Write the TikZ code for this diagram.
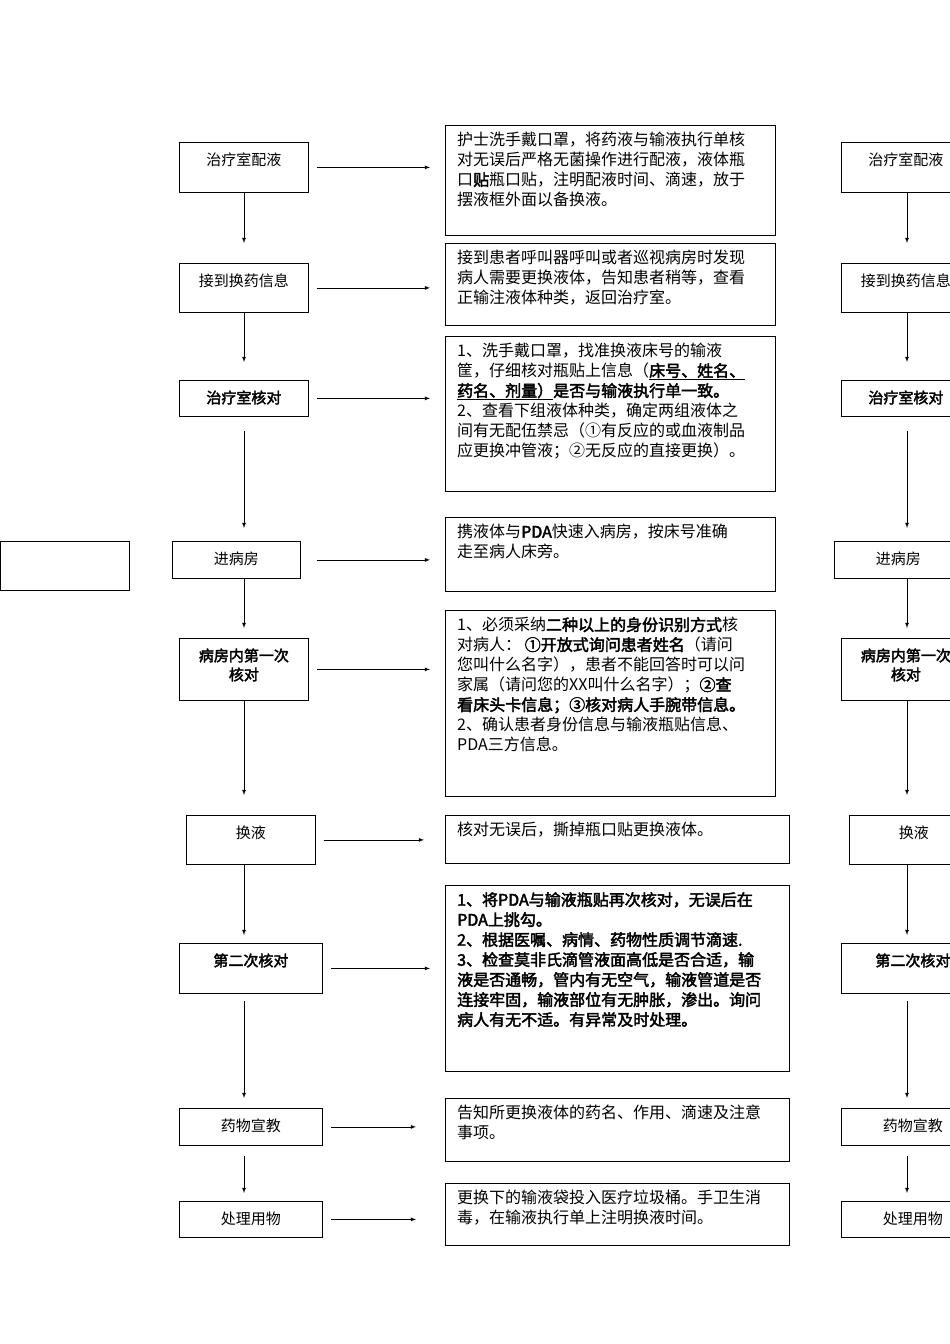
\documentclass[tikz,border=0pt]{standalone}
\usepackage{fontspec}
\setmainfont{Noto Sans CJK SC}[AutoFakeBold=2.5]
\usetikzlibrary{arrows, positioning, calc}
\tikzstyle{stepbox} = [rectangle, draw=black, thick, anchor=north west, inner sep=0pt, font=\fontsize{15}{19}\selectfont]
\tikzstyle{notebox} = [rectangle, draw=black, thick, anchor=north west, inner sep=0pt, font=\fontsize{16}{20}\selectfont]
\tikzstyle{arrow} = [thick,->,>=latex]
\newcommand{\stepnode}[6]{\node (#1) [stepbox, minimum width=#4, minimum height=#5] at (#2,#3) {};
  \node [anchor=north, align=center, font=\fontsize{15}{19}\selectfont] at ([yshift=-7]#1.north) {#6};}
\newcommand{\notenode}[6]{\node (#1) [notebox, minimum width=#4, minimum height=#5] at (#2,#3) {};
  \node [anchor=north west, align=left, font=\fontsize{16}{20}\selectfont, inner sep=0pt] at ([xshift=12,yshift=-7]#1.north west) {#6};}

\begin{document}
\begin{tikzpicture}[x=1pt, y=-1pt]
\useasboundingbox (0,0) rectangle (950,1344);
\coordinate (spine) at (244,0);
\coordinate (spineB) at (907,0);

% Left column
\stepnode{prep}{179}{142}{129}{50}{治疗室配液}
\stepnode{info}{179}{263}{129}{49}{接到换药信息}
\stepnode{check}{179}{380}{129}{36}{\textbf{治疗室核对}}
\stepnode{ward}{172}{541}{128}{37}{进病房}
\stepnode{first}{179}{638}{129}{62}{\textbf{病房内第一次}\\\textbf{核对}}
\stepnode{swap}{186}{815}{129}{49}{换液}
\stepnode{second}{179}{943}{143}{50}{\textbf{第二次核对}}
\stepnode{teach}{179}{1108}{143}{37}{药物宣教}
\stepnode{clean}{179}{1201}{143}{36}{处理用物}
\node (blank) [stepbox, minimum width=129, minimum height=49] at (0,541) {};

% Right column copy (cut off)
\stepnode{prepB}{841}{142}{129}{50}{治疗室配液}
\stepnode{infoB}{841}{263}{129}{49}{接到换药信息}
\stepnode{checkB}{841}{380}{129}{36}{\textbf{治疗室核对}}
\stepnode{wardB}{834}{541}{128}{37}{进病房}
\stepnode{firstB}{841}{638}{129}{62}{\textbf{病房内第一次}\\\textbf{核对}}
\stepnode{swapB}{849}{815}{129}{49}{换液}
\stepnode{secondB}{841}{943}{143}{50}{\textbf{第二次核对}}
\stepnode{teachB}{841}{1108}{143}{37}{药物宣教}
\stepnode{cleanB}{841}{1201}{143}{36}{处理用物}

% Notes
\notenode{n1}{445}{125}{330}{110}{护士洗手戴口罩，将药液与输液执行单核\\对无误后严格无菌操作进行配液，液体瓶\\口\textbf{贴}瓶口贴，注明配液时间、滴速，放于\\摆液框外面以备换液。}
\notenode{n2}{445}{243}{330}{82}{接到患者呼叫器呼叫或者巡视病房时发现\\病人需要更换液体，告知患者稍等，查看\\正输注液体种类，返回治疗室。}
\notenode{n3}{445}{336}{330}{155}{1、洗手戴口罩，找准换液床号的输液\\筐，仔细核对瓶贴上信息（\underline{\textbf{床号、姓名、}}\\\underline{\textbf{药名、剂量）}}\textbf{是否与输液执行单一致。}\\2、查看下组液体种类，确定两组液体之\\间有无配伍禁忌（①有反应的或血液制品\\应更换冲管液；②无反应的直接更换）。}
\notenode{n4}{445}{517}{330}{74}{携液体与\textbf{PDA}快速入病房，按床号准确\\走至病人床旁。}
\notenode{n5}{445}{610}{330}{186}{1、必须采纳\textbf{二种以上的身份识别方式}核\\对病人：\ \textbf{①开放式询问患者姓名}（请问\\您叫什么名字），患者不能回答时可以问\\家属（请问您的XX叫什么名字）；\textbf{②查}\\\textbf{看床头卡信息；③核对病人手腕带信息。}\\2、确认患者身份信息与输液瓶贴信息、\\PDA三方信息。}
\notenode{n6}{445}{815}{344}{48}{核对无误后，撕掉瓶口贴更换液体。}
\notenode{n7}{445}{885}{344}{186}{\textbf{1、将PDA与输液瓶贴再次核对，无误后在}\\\textbf{PDA上挑勾。}\\\textbf{2、根据医嘱、病情、药物性质调节滴速.}\\\textbf{3、检查莫非氏滴管液面高低是否合适，输}\\\textbf{液是否通畅，管内有无空气，输液管道是否}\\\textbf{连接牢固，输液部位有无肿胀，渗出。询问}\\\textbf{病人有无不适。有异常及时处理。}}
\notenode{n8}{445}{1098}{344}{63}{告知所更换液体的药名、作用、滴速及注意\\事项。}
\notenode{n9}{445}{1183}{344}{62}{更换下的输液袋投入医疗垃圾桶。手卫生消\\毒，在输液执行单上注明换液时间。}

% Down arrows
\foreach \a/\b/\s/\e/\x in {prep/info/0/20/spine, info/check/0/18/spine, check/ward/14/13/spine, ward/first/0/10/spine, first/swap/0/20/spine, swap/second/0/8/spine, second/teach/7/10/spine, teach/clean/10/8/spine,
  prepB/infoB/0/20/spineB, infoB/checkB/0/18/spineB, checkB/wardB/14/13/spineB, wardB/firstB/0/10/spineB, firstB/swapB/0/20/spineB, swapB/secondB/0/8/spineB, secondB/teachB/7/10/spineB, teachB/cleanB/10/8/spineB}
  \draw [arrow, shorten <=\s, shorten >=\e] (\a.south -| \x) -- (\b.north -| \x);

% Side arrows
\foreach \a/\b/\s/\e in {prep/n1/8/15, info/n2/8/15, check/n3/8/15, ward/n4/16/15, first/n5/8/15, swap/n6/8/21, second/n7/8/15, teach/n8/8/29, clean/n9/8/29}
  \draw [arrow, shorten <=\s, shorten >=\e] (\a.east) -- (\a.east -| \b.west);

\end{tikzpicture}
\end{document}
